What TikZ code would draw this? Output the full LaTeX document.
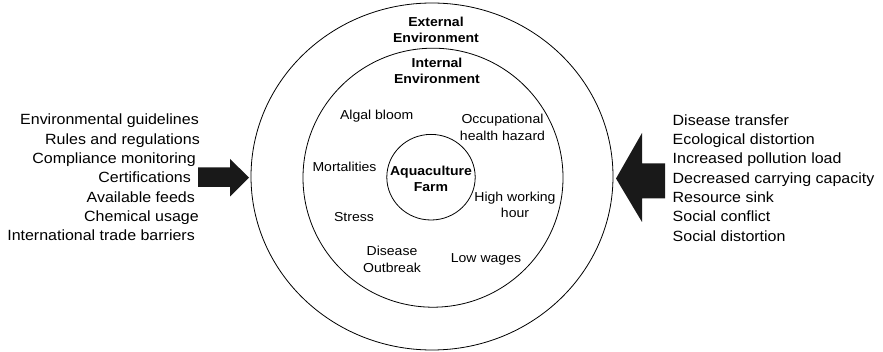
\documentclass[tikz,border=0pt]{standalone}
\usepackage{fontspec}
\setmainfont[FakeStretch=1.08]{Liberation Sans}
\usetikzlibrary{shapes.geometric}
\begin{document}
\begin{tikzpicture}[x=1pt,y=-1pt,
  lst/.style={font=\fontsize{14.8}{19.4}\selectfont, inner sep=0pt, text height=10.6pt, text depth=0pt},
  lbl/.style={font=\fontsize{13}{16.5}\selectfont, align=center, inner sep=0pt},
  bl/.style={font=\bfseries\fontsize{13}{16}\selectfont, align=center, inner sep=0pt},
  ring/.style={draw, ellipse, inner sep=0pt, line width=0.8pt},
  blockarrow/.style={fill=black!90, draw=none}]
\useasboundingbox (0,0) rectangle (883,352);
% rings
\node[ring, minimum width=362pt, minimum height=347pt] (outer) at (432,176.5) {};
\node[ring, minimum width=260pt, minimum height=259pt] (inner) at (433,177.7) {};
\node[ring, minimum width=88.4pt, minimum height=85.6pt] (farm) at (431,177.2) {};
% ring labels
\node[bl] (ext) at (436,29.5) {External\\Environment};
\node[bl] (int) at (437,71.3) {Internal\\Environment};
\node[bl] (aq) at (431,178.7) {Aquaculture\\Farm};
% internal factors
\node[lbl] (algal) at (376.7,116) {Algal bloom};
\node[lbl] (occ) at (502.5,127.5) {Occupational\\health hazard};
\node[lbl] (mort) at (344.5,166.7) {Mortalities};
\node[lbl] (high) at (515,205) {High working\\hour};
\node[lbl] (stress) at (354,217) {Stress};
\node[lbl] (dis) at (392,259.5) {Disease\\Outbreak};
\node[lbl] (low) at (486,259.3) {Low wages};
% left list
\node[lst, anchor=east] (l1) at (199,119) {Environmental guidelines};
\node[lst, anchor=east] (l2) at (200,139) {Rules and regulations};
\node[lst, anchor=east] (l3) at (196,158) {Compliance monitoring};
\node[lst, anchor=east] (l4) at (191,177.5) {Certifications};
\node[lst, anchor=east] (l5) at (195,197) {Available feeds};
\node[lst, anchor=east] (l6) at (199,216) {Chemical usage};
\node[lst, anchor=east] (l7) at (195,235.5) {International trade barriers};
% right list
\node[lst, anchor=west] (r1) at (672.5,120) {Disease transfer};
\node[lst, anchor=west] (r2) at (672.5,139) {Ecological distortion};
\node[lst, anchor=west] (r3) at (672.5,158.5) {Increased pollution load};
\node[lst, anchor=west] (r4) at (672.5,178) {Decreased carrying capacity};
\node[lst, anchor=west] (r5) at (672.5,197) {Resource sink};
\node[lst, anchor=west] (r6) at (672.5,216.5) {Social conflict};
\node[lst, anchor=west] (r7) at (672.5,236) {Social distortion};
% block arrows
\fill[blockarrow] (198,167.5) -- (230,167.5) -- (230,159) -- (249,177.5) -- (230,196.5) -- (230,187) -- (198,187) -- cycle;
\fill[blockarrow] (665,163.5) -- (642,163.5) -- (642,133) -- (616,178.5) -- (642,222) -- (642,198.5) -- (665,198.5) -- cycle;
\end{tikzpicture}
\end{document}
